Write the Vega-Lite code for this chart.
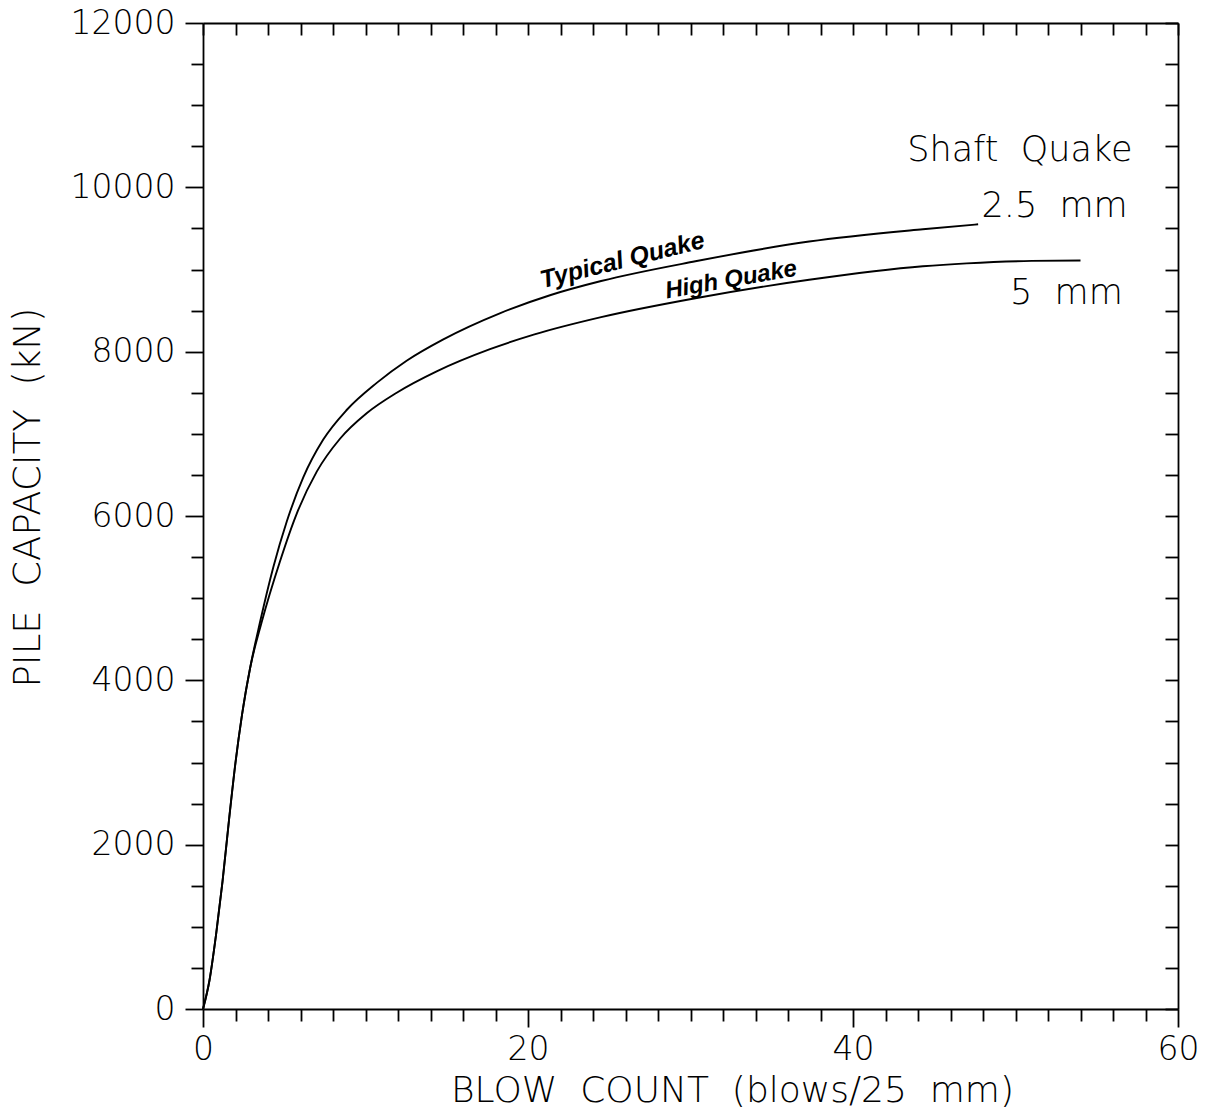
{
  "$schema": "https://vega.github.io/schema/vega-lite/v6.json",
  "autosize": {"type": "none"},
  "width": 975,
  "height": 986,
  "padding": {"left": 203, "top": 23, "right": 31, "bottom": 111},
  "background": "white",
  "config": {
    "view": {"stroke": null},
    "axis": {
      "grid": false,
      "domainColor": "black",
      "tickColor": "black",
      "labelColor": "black",
      "titleColor": "black",
      "labelFont": "DejaVu Sans",
      "titleFont": "DejaVu Sans",
      "labelFontWeight": 200,
      "titleFontWeight": 200,
      "domainWidth": 1.8,
      "tickWidth": 1.8
    }
  },
  "datasets": {
    "curves": [
      {"quake": "2.5 mm", "blows": 0, "capacity": 0},
      {"quake": "2.5 mm", "blows": 0.4, "capacity": 350},
      {"quake": "2.5 mm", "blows": 0.8, "capacity": 900},
      {"quake": "2.5 mm", "blows": 1.2, "capacity": 1550},
      {"quake": "2.5 mm", "blows": 1.6, "capacity": 2300},
      {"quake": "2.5 mm", "blows": 2.0, "capacity": 3000},
      {"quake": "2.5 mm", "blows": 2.4, "capacity": 3580},
      {"quake": "2.5 mm", "blows": 2.9, "capacity": 4150},
      {"quake": "2.5 mm", "blows": 3.5, "capacity": 4700},
      {"quake": "2.5 mm", "blows": 4.33, "capacity": 5380},
      {"quake": "2.5 mm", "blows": 5.15, "capacity": 5930},
      {"quake": "2.5 mm", "blows": 6.17, "capacity": 6470},
      {"quake": "2.5 mm", "blows": 7.4, "capacity": 6930},
      {"quake": "2.5 mm", "blows": 8.84, "capacity": 7290},
      {"quake": "2.5 mm", "blows": 10.69, "capacity": 7620},
      {"quake": "2.5 mm", "blows": 12.53, "capacity": 7890},
      {"quake": "2.5 mm", "blows": 14.79, "capacity": 8150},
      {"quake": "2.5 mm", "blows": 18.3, "capacity": 8470},
      {"quake": "2.5 mm", "blows": 21.4, "capacity": 8690},
      {"quake": "2.5 mm", "blows": 24.5, "capacity": 8860},
      {"quake": "2.5 mm", "blows": 30.3, "capacity": 9100},
      {"quake": "2.5 mm", "blows": 37.3, "capacity": 9340},
      {"quake": "2.5 mm", "blows": 44.3, "capacity": 9490},
      {"quake": "2.5 mm", "blows": 47.7, "capacity": 9550},
      {"quake": "5 mm", "blows": 0, "capacity": 0},
      {"quake": "5 mm", "blows": 0.4, "capacity": 350},
      {"quake": "5 mm", "blows": 0.8, "capacity": 900},
      {"quake": "5 mm", "blows": 1.2, "capacity": 1550},
      {"quake": "5 mm", "blows": 1.6, "capacity": 2300},
      {"quake": "5 mm", "blows": 2.0, "capacity": 3000},
      {"quake": "5 mm", "blows": 2.4, "capacity": 3580},
      {"quake": "5 mm", "blows": 2.9, "capacity": 4150},
      {"quake": "5 mm", "blows": 3.6, "capacity": 4700},
      {"quake": "5 mm", "blows": 4.74, "capacity": 5450},
      {"quake": "5 mm", "blows": 5.77, "capacity": 6030},
      {"quake": "5 mm", "blows": 7.0, "capacity": 6540},
      {"quake": "5 mm", "blows": 8.43, "capacity": 6940},
      {"quake": "5 mm", "blows": 10.07, "capacity": 7250},
      {"quake": "5 mm", "blows": 11.92, "capacity": 7500},
      {"quake": "5 mm", "blows": 14.38, "capacity": 7760},
      {"quake": "5 mm", "blows": 17.66, "capacity": 8030},
      {"quake": "5 mm", "blows": 20.4, "capacity": 8210},
      {"quake": "5 mm", "blows": 24.5, "capacity": 8420},
      {"quake": "5 mm", "blows": 30.3, "capacity": 8650},
      {"quake": "5 mm", "blows": 37.3, "capacity": 8875},
      {"quake": "5 mm", "blows": 44.3, "capacity": 9040},
      {"quake": "5 mm", "blows": 47.0, "capacity": 9075},
      {"quake": "5 mm", "blows": 51.0, "capacity": 9105},
      {"quake": "5 mm", "blows": 54.0, "capacity": 9110}
    ]
  },
  "layer": [
    {
      "data": {"name": "curves"},
      "mark": {"type": "line", "color": "black", "strokeWidth": 1.9, "interpolate": "monotone"},
      "encoding": {
        "x": {
          "field": "blows", "type": "quantitative",
          "scale": {"domain": [0, 60], "nice": false, "zero": false},
          "axis": {
            "orient": "bottom",
            "values": [0,2,4,6,8,10,12,14,16,18,20,22,24,26,28,30,32,34,36,38,40,42,44,46,48,50,52,54,56,58,60],
            "tickSize": {"condition": {"test": "datum.value % 20 === 0", "value": 18}, "value": 12},
            "labelExpr": "datum.value % 20 === 0 ? datum.label : ''",
            "labelFontSize": 33,
            "labelPadding": 6,
            "labelFlush": false,
            "labelOverlap": false,
            "title": "BLOW\u00a0 COUNT\u00a0 (blows/25\u00a0 mm)",
            "titleFontSize": 36,
            "titleX": 529,
            "titleY": 92,
            "titleAlign": "center",
            "titleBaseline": "alphabetic"
          }
        },
        "y": {
          "field": "capacity", "type": "quantitative",
          "scale": {"domain": [0, 12000], "nice": false},
          "axis": {
            "orient": "left",
            "values": [0,500,1000,1500,2000,2500,3000,3500,4000,4500,5000,5500,6000,6500,7000,7500,8000,8500,9000,9500,10000,10500,11000,11500,12000],
            "tickSize": {"condition": {"test": "datum.value % 2000 === 0", "value": 18}, "value": 12},
            "labelExpr": "datum.value % 2000 === 0 ? datum.label : ''",
            "format": "d",
            "labelFontSize": 33,
            "labelPadding": 10,
            "labelFlush": false,
            "labelOverlap": false,
            "title": "PILE\u00a0 CAPACITY\u00a0 (kN)",
            "titleFontSize": 37,
            "titleAngle": -90,
            "titleX": -175,
            "titleY": 474,
            "titleAlign": "center",
            "titleBaseline": "middle"
          }
        },
        "detail": {"field": "quake"}
      }
    },
    {
      "data": {"values": [
        {"blows": 57.2, "capacity": 10454, "text": "Shaft\u00a0 Quake"},
        {"blows": 56.9, "capacity": 9772, "text": "2.5\u00a0 mm"},
        {"blows": 56.6, "capacity": 8714, "text": "5\u00a0 mm"}
      ]},
      "mark": {"type": "text", "align": "right", "baseline": "middle", "font": "DejaVu Sans", "fontWeight": 200, "fontSize": 35, "color": "black"},
      "encoding": {
        "x": {
          "field": "blows", "type": "quantitative",
          "axis": {
            "orient": "top",
            "values": [0,2,4,6,8,10,12,14,16,18,20,22,24,26,28,30,32,34,36,38,40,42,44,46,48,50,52,54,56,58,60],
            "tickSize": -12,
            "labels": false,
            "title": null
          }
        },
        "y": {
          "field": "capacity", "type": "quantitative",
          "axis": {
            "orient": "right",
            "values": [0,500,1000,1500,2000,2500,3000,3500,4000,4500,5000,5500,6000,6500,7000,7500,8000,8500,9000,9500,10000,10500,11000,11500,12000],
            "tickSize": -13,
            "labels": false,
            "title": null
          }
        },
        "text": {"field": "text"}
      }
    },
    {
      "data": {"values": [{"blows": 25.8, "capacity": 9115, "text": "Typical Quake"}]},
      "mark": {"type": "text", "align": "center", "baseline": "middle", "font": "Liberation Sans", "fontWeight": "bold", "fontStyle": "italic", "fontSize": 25, "angle": -14, "color": "black"},
      "encoding": {
        "x": {"field": "blows", "type": "quantitative", "axis": null},
        "y": {"field": "capacity", "type": "quantitative", "axis": null},
        "text": {"field": "text"}
      }
    },
    {
      "data": {"values": [{"blows": 32.5, "capacity": 8872, "text": "High Quake"}]},
      "mark": {"type": "text", "align": "center", "baseline": "middle", "font": "Liberation Sans", "fontWeight": "bold", "fontStyle": "italic", "fontSize": 24, "angle": -10, "color": "black"},
      "encoding": {
        "x": {"field": "blows", "type": "quantitative", "axis": null},
        "y": {"field": "capacity", "type": "quantitative", "axis": null},
        "text": {"field": "text"}
      }
    }
  ],
  "resolve": {"axis": {"x": "independent", "y": "independent"}}
}
